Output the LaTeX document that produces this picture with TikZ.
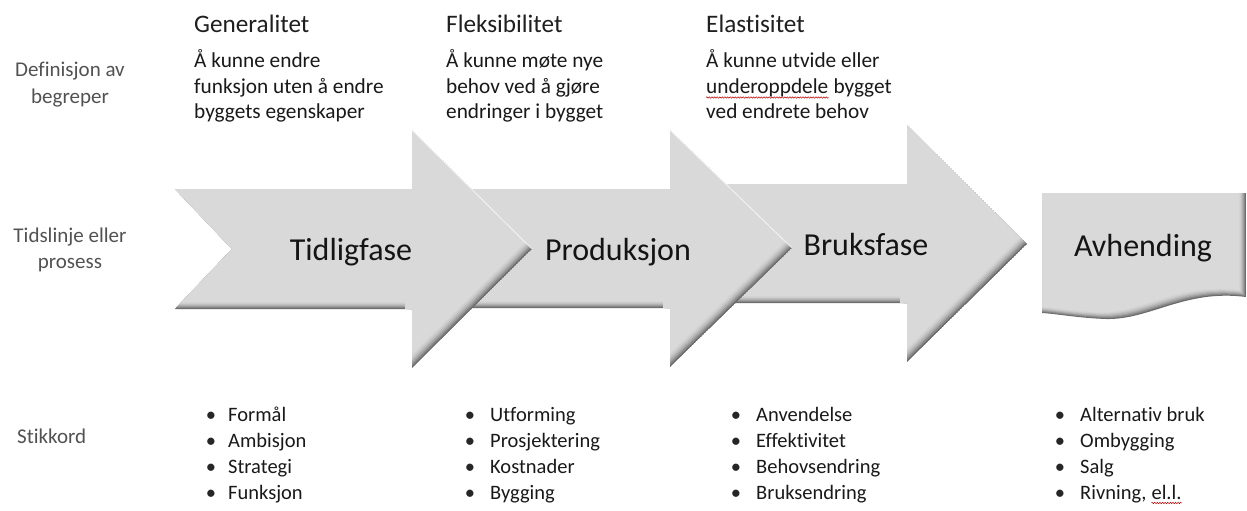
\documentclass[tikz,border=0pt]{standalone}
\usepackage{fontspec}
\setmainfont{Carlito}[Ligatures=NoCommon]
\usetikzlibrary{calc,decorations.pathmorphing}
\definecolor{basegray}{HTML}{D9D9D9}
\newcommand{\bevelfill}[1]{%
  \begin{scope}
    \clip #1;
    \fill[black!58] #1;
    \fill[black!48,shift={(-1,-1)}] #1;
    \fill[black!39,shift={(-2,-2)}] #1;
    \fill[black!31,shift={(-3,-3)}] #1;
    \fill[black!25,shift={(-4,-4)}] #1;
    \fill[black!20,shift={(-5,-5)}] #1;
    \fill[black!17,shift={(-6,-6)}] #1;
    \fill[basegray,shift={(-7,-7)}] #1;
  \end{scope}}
\tikzset{
  lbl/.style={font=\fontsize{21}{26}\selectfont, text=black!68, anchor=base, inner sep=0pt},
  headtxt/.style={font=\fontsize{25.2}{30}\selectfont, text=black!88, anchor=base west, inner sep=0pt},
  desc/.style={font=\fontsize{21.3}{26}\selectfont, text=black!90, anchor=base west, inner sep=0pt},
  phase/.style={font=\fontsize{32}{38}\selectfont, text=black!92, anchor=base, inner sep=0pt},
  itemtxt/.style={font=\fontsize{20.5}{26}\selectfont, text=black!90, anchor=base west, inner sep=0pt},
  dot/.style={font=\fontsize{20.5}{26}\selectfont, text=black!85, anchor=base, inner sep=0pt},
  wavy/.style={draw=red!75!black, line width=0.5pt, decorate, decoration={snake, amplitude=0.7pt, segment length=2.6pt}},
  hilite/.style={draw=white, line width=1pt, opacity=0.7},
}
\begin{document}
\begin{tikzpicture}[x=1pt,y=-1pt]
\useasboundingbox (0,0) rectangle (1247,511);
\fill[white] (0,0) rectangle (1247,511);

% shapes (back to front)
\bevelfill{(1042,193) -- (1246,193) -- (1246,297) .. controls (1185,289) and (1150,320) .. (1106,319) .. controls (1078,318) and (1058,314) .. (1042,313) -- cycle}
\bevelfill{(700,184) -- (907,184) -- (907,125) -- (1027,244) -- (907,362) -- (907,303) -- (700,303) -- cycle}
\bevelfill{(440,189) -- (670,189) -- (670,130) -- (792,248) -- (670,367) -- (670,308) -- (440,308) -- cycle}
\draw[hilite] (670,130) -- (792,248);
\bevelfill{(175,189) -- (412,189) -- (412,130) -- (532,249) -- (412,368) -- (412,309) -- (175,309) -- (232,249) -- cycle}
\draw[hilite] (412,130) -- (532,249);

% phase labels
\node[phase] (p1) at (351,260) {Tidligfase};
\node[phase] (p2) at (618,260) {Produksjon};
\node[phase] (p3) at (866,255) {Bruksfase};
\node[phase] (p4) at (1143,256) {Avhending};

% row labels
\node[lbl] (l1a) at (70,76) {Definisjon av};
\node[lbl] (l1b) at (70,103) {begreper};
\node[lbl] (l2a) at (70,242) {Tidslinje eller};
\node[lbl] (l2b) at (70,268) {prosess};
\node[lbl,anchor=base west] (l3) at (17,443) {Stikkord};

% headings
\node[headtxt] (h1) at (194,33) {Generalitet};
\node[headtxt] (h2) at (446,33) {Fleksibilitet};
\node[headtxt] (h3) at (706,33) {Elastisitet};

% definitions
\node[desc] (d1a) at (194,67.5) {Å kunne endre};
\node[desc] (d1b) at (194,93) {funksjon uten å endre};
\node[desc] (d1c) at (194,118.5) {byggets egenskaper};
\node[desc] (d2a) at (446,67.5) {Å kunne møte nye};
\node[desc] (d2b) at (446,93) {behov ved å gjøre};
\node[desc] (d2c) at (446,118.5) {endringer i bygget};
\node[desc] (d3a) at (706,67.5) {Å kunne utvide eller};
\node[desc] (uo) at (706,93) {underoppdele};
\node[desc] (d3b) at ($(uo.base east)+(4.8,0)$) {bygget};
\node[desc] (d3c) at (706,118.5) {ved endrete behov};
\draw[wavy] ($(uo.base west)+(0,4.5)$) -- ($(uo.base east)+(0,4.5)$);

% keyword lists
\foreach \t [count=\i] in {Formål, Ambisjon, Strategi, Funksjon} {
  \node[dot] (a\i) at (211,{421+26*(\i-1)}) {•};
  \node[itemtxt] (at\i) at (228,{421+26*(\i-1)}) {\t};
}
\foreach \t [count=\i] in {Utforming, Prosjektering, Kostnader, Bygging} {
  \node[dot] (b\i) at (470,{421+26*(\i-1)}) {•};
  \node[itemtxt] (bt\i) at (490,{421+26*(\i-1)}) {\t};
}
\foreach \t [count=\i] in {Anvendelse, Effektivitet, Behovsendring, Bruksendring} {
  \node[dot] (c\i) at (736,{421+26*(\i-1)}) {•};
  \node[itemtxt] (ct\i) at (756,{421+26*(\i-1)}) {\t};
}
\foreach \t [count=\i] in {Alternativ bruk, Ombygging, Salg} {
  \node[dot] (e\i) at (1060,{421+26*(\i-1)}) {•};
  \node[itemtxt] (et\i) at (1080,{421+26*(\i-1)}) {\t};
}
\node[dot] (e4) at (1060,499) {•};
\node[itemtxt] (et4) at (1080,499) {Rivning,};
\node[itemtxt] (ell) at ($(et4.base east)+(4.6,0)$) {el.l.};
\draw[wavy] ($(ell.base west)+(0,4)$) -- ($(ell.base east)+(0,4)$);
\end{tikzpicture}
\end{document}
